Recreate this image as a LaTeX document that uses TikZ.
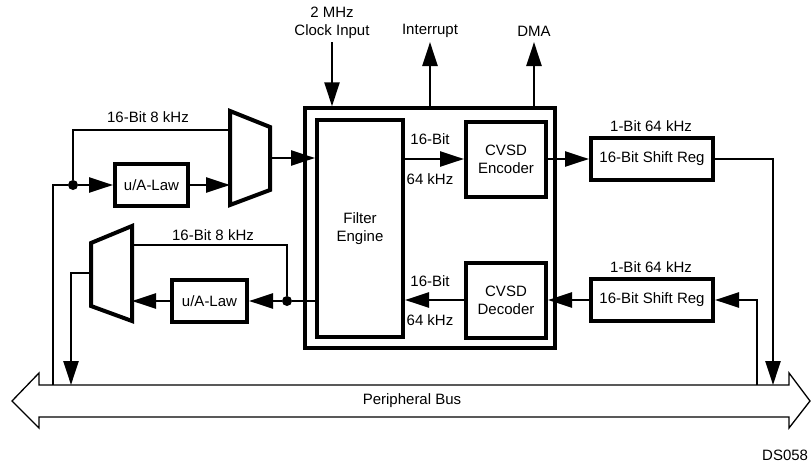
\documentclass[tikz,border=0pt]{standalone}
\usepackage{fontspec}
\setmainfont{Liberation Sans}
\usetikzlibrary{arrows.meta, positioning, calc}

\begin{document}
\begin{tikzpicture}[x=1pt, y=-1pt,
        block/.style={draw, line width=4pt, inner sep=0pt, align=center, font=\fontsize{15}{18}\selectfont},
        lbl/.style={inner sep=0pt, align=center, font=\fontsize{15}{18}\selectfont},
        line/.style={draw, line width=2.4pt, -{Triangle[length=24pt, width=15pt]}},
        wire/.style={draw, line width=2.4pt},
        mux/.style={draw, line width=4pt, line join=miter},
        junction/.style={circle, fill, inner sep=0pt, minimum size=10pt}]

    \useasboundingbox (0,0) rectangle (811,466);

    % main blocks
    \node [block, line width=3.4pt, minimum width=250pt, minimum height=240pt] (core) at (430,228) {};
    \node [block, minimum width=86pt, minimum height=217pt] (filter) at (360,228.5) {Filter\\Engine};
    \node [block, minimum width=80pt, minimum height=75pt] (enc) at (506,159) {CVSD\\Encoder};
    \node [block, minimum width=80pt, minimum height=75pt] (dec) at (506,300) {CVSD\\Decoder};
    \node [block, minimum width=122pt, minimum height=42pt] (sr1) at (652,159) {16-Bit Shift Reg};
    \node [block, minimum width=122pt, minimum height=42pt] (sr2) at (652,300) {16-Bit Shift Reg};
    \node [block, minimum width=73pt, minimum height=42pt] (law1) at (151.5,185) {u/A-Law};
    \node [block, minimum width=75pt, minimum height=42pt] (law2) at (209.5,301) {u/A-Law};

    % multiplexers
    \draw [mux] (230,111) -- (270,127) -- (270,190) -- (230,205) -- cycle;
    \draw [mux] (132,226) -- (132,321) -- (91,306) -- (91,243) -- cycle;
    \coordinate (mux1a) at (230,130);
    \coordinate (mux1b) at (230,185);
    \coordinate (mux1o) at (270,158);
    \coordinate (mux2a) at (132,245);
    \coordinate (mux2b) at (132,301);
    \coordinate (mux2o) at (91,273);

    % peripheral bus
    \draw [line width=1.3pt] (12,401) -- (39,373) -- (39,385) -- (789,385) -- (789,373) -- (810,401)
        -- (789,428) -- (789,417) -- (39,417) -- (39,428) -- cycle;
    \node [lbl] (bus) at (412,401) {Peripheral Bus};
    \coordinate (busA) at (53,385);
    \coordinate (busB) at (71,385);
    \coordinate (busC) at (757,385);
    \coordinate (busD) at (773,385);

    % transmit path
    \node [junction] (dot1) at (73,185) {};
    \path [wire] (busA) |- (dot1);
    \path [line] (dot1) -- (law1);
    \path [line] (law1) -- (mux1b);
    \path [wire] (dot1) |- (mux1a);
    \path [line] (mux1o) -- (mux1o -| filter.west);
    \path [line] (enc.west -| filter.east) -- (enc);
    \path [line] (enc) -- (sr1);
    \path [line] (sr1) -| (busD);

    % receive path
    \path [line] (busC) |- (sr2);
    \path [line] (sr2) -- (dec);
    \path [line] (dec) -- (dec.west -| filter.east);
    \node [junction] (dot2) at (287,301) {};
    \path [wire] (dot2 -| filter.west) -- (dot2);
    \path [line] (dot2) -- (law2);
    \path [line] (law2) -- (mux2b);
    \path [wire] (dot2) |- (mux2a);
    \path [line] (mux2o) -| (busB);

    % control signals
    \coordinate (clk) at (332,42);
    \coordinate (irq) at (430,42);
    \coordinate (dma) at (534,42);
    \path [line] (clk) -- (clk |- core.north);
    \path [line] (irq |- core.north) -- (irq);
    \path [line] (dma |- core.north) -- (dma);

    % labels
    \node [lbl] at (332,23) {2 MHz\\Clock Input};
    \node [lbl] at (430,31) {Interrupt};
    \node [lbl] at (534,31) {DMA};
    \node [lbl] at (148,117) {16-Bit 8 kHz};
    \node [lbl] at (213,235) {16-Bit 8 kHz};
    \node [lbl] at (430,139) {16-Bit};
    \node [lbl] at (430,179) {64 kHz};
    \node [lbl] at (430,281) {16-Bit};
    \node [lbl] at (430,320) {64 kHz};
    \node [lbl] at (651,126) {1-Bit 64 kHz};
    \node [lbl] at (651,267) {1-Bit 64 kHz};
    \node [lbl, anchor=west] at (762,455) {DS058};
\end{tikzpicture}
\end{document}
